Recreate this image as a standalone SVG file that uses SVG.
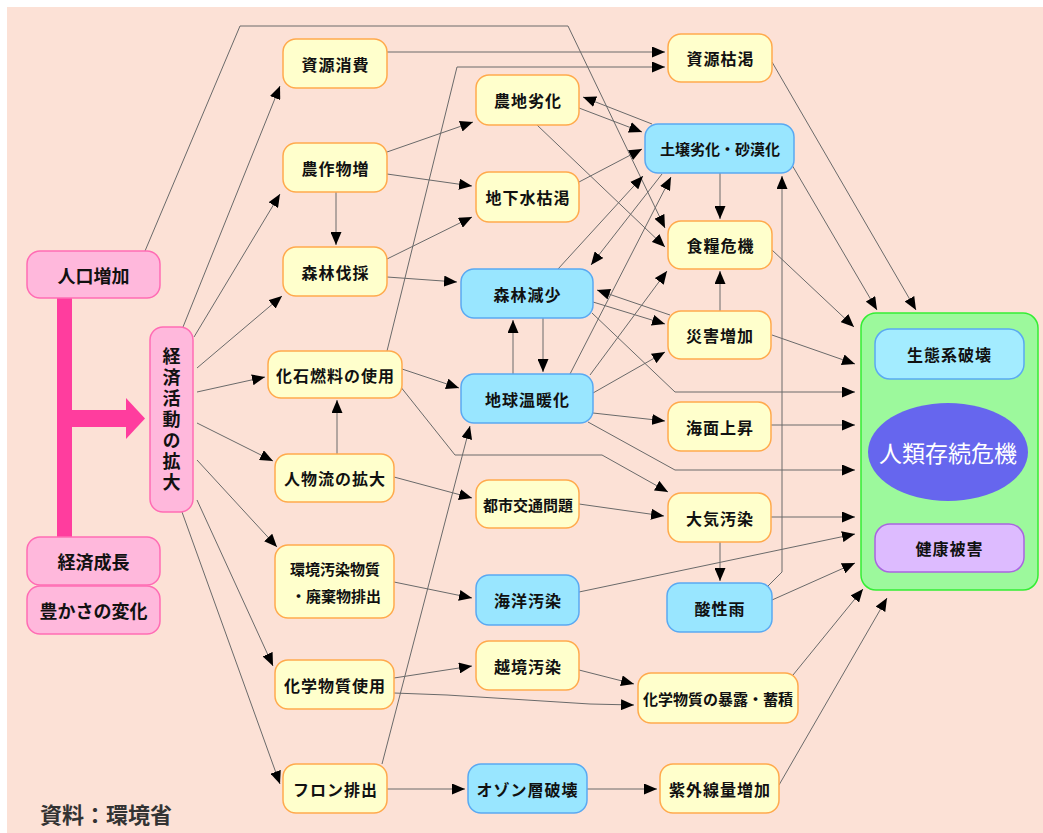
<svg xmlns="http://www.w3.org/2000/svg" width="1043" height="833" viewBox="0 0 1043 833">
<defs>
<marker id="ah" markerUnits="userSpaceOnUse" markerWidth="13" markerHeight="11" refX="13" refY="5.5" orient="auto">
<path d="M0,0 L13,5.5 L0,11 z" fill="#000"/>
</marker>
<style>
.c{fill:none;stroke:#6a6a6a;stroke-width:1;marker-end:url(#ah)}
.y{fill:#ffffcc;stroke:#ffaa4d;stroke-width:1.5}
.b{fill:#99e6ff;stroke:#5aa9f2;stroke-width:1.5}
.p{fill:#ffb8dc;stroke:#ff6cb4;stroke-width:1.5}
text{font-family:"Noto Sans CJK JP","Noto Sans CJK SC",sans-serif;font-weight:bold;fill:#111;text-anchor:middle;dominant-baseline:central}
.t{font-size:16px;letter-spacing:1px}
.s{font-size:15px}
.l{font-size:18px}
.v{font-size:18px;writing-mode:vertical-rl;letter-spacing:3px}
</style>
</defs>
<rect x="0" y="0" width="1043" height="833" fill="#ffffff"/>
<rect x="7" y="7" width="1036" height="826" fill="#fce1d6"/>

<g id="bigarrow" fill="#ff3d9e">
<rect x="57" y="298" width="15" height="239"/>
<rect x="72" y="410" width="55" height="17"/>
<polygon points="126,398 145,418.5 126,439"/>
</g>

<g id="connectors">
<path class="c" d="M145,251 L240,26 L568,26 L665,228"/>
<path class="c" d="M183,327 L280,86"/>
<path class="c" d="M194,337 L280,194"/>
<path class="c" d="M197,368 L282,296"/>
<path class="c" d="M197,392 L265,377"/>
<path class="c" d="M197,423 L273,461"/>
<path class="c" d="M197,460 L277,547"/>
<path class="c" d="M197,500 L273,666"/>
<path class="c" d="M182,512 L280,784"/>
<path class="c" d="M387,52 L665,52"/>
<path class="c" d="M387,351 L457,67 L665,67"/>
<path class="c" d="M336,192 L336,245"/>
<path class="c" d="M387,152 L473,122"/>
<path class="c" d="M387,174 L472,186"/>
<path class="c" d="M387,259 L472,217"/>
<path class="c" d="M387,277 L457,282"/>
<path class="c" d="M579,108 L642,132"/>
<path class="c" d="M579,182 L642,149"/>
<path class="c" d="M652,124 L583,97"/>
<path class="c" d="M537,125 L665,247"/>
<path class="c" d="M558,269 L643,176"/>
<path class="c" d="M570,374 L671,177"/>
<path class="c" d="M590,375 L667,271"/>
<path class="c" d="M662,174 L591,265"/>
<path class="c" d="M720,173 L720,219"/>
<path class="c" d="M720,311 L720,271"/>
<path class="c" d="M670,315 L597,290"/>
<path class="c" d="M593,302 L665,324"/>
<path class="c" d="M513,374 L513,320"/>
<path class="c" d="M543,318 L543,372"/>
<path class="c" d="M593,393 L665,352"/>
<path class="c" d="M593,413 L665,421"/>
<path class="c" d="M592,313 L675,392 L855,392"/>
<path class="c" d="M588,422 L675,470 L855,470"/>
<path class="c" d="M402,369 L459,388"/>
<path class="c" d="M400,386 L455,455 L602,455 L668,492"/>
<path class="c" d="M337,454 L337,400"/>
<path class="c" d="M394,477 L472,498"/>
<path class="c" d="M579,504 L664,516"/>
<path class="c" d="M394,582 L472,598"/>
<path class="c" d="M579,592 L855,534"/>
<path class="c" d="M394,678 L472,666"/>
<path class="c" d="M394,693 L447,695 L590,704 L634,705"/>
<path class="c" d="M579,670 L634,684"/>
<path class="c" d="M387,789 L465,789"/>
<path class="c" d="M587,789 L657,789"/>
<path class="c" d="M382,764 L470,426"/>
<path class="c" d="M720,542 L720,581"/>
<path class="c" d="M768,586 L782,572 L782,176"/>
<path class="c" d="M772,62 L916,310"/>
<path class="c" d="M792,165 L877,310"/>
<path class="c" d="M772,250 L854,327"/>
<path class="c" d="M772,335 L855,364"/>
<path class="c" d="M771,425 L855,425"/>
<path class="c" d="M771,517 L855,517"/>
<path class="c" d="M772,600 L855,563"/>
<path class="c" d="M793,675 L863,589"/>
<path class="c" d="M779,785 L887,598"/>
</g>

<g id="n-jinko"><rect class="p" x="27" y="251" width="133" height="47" rx="13"/><text class="l" x="93.5" y="274.5">人口増加</text></g>
<g id="n-keizaiseicho"><rect class="p" x="27" y="537" width="133" height="48" rx="13"/><text class="l" x="93.5" y="561">経済成長</text></g>
<g id="n-yutakasa"><rect class="p" x="27" y="586" width="133" height="48" rx="13"/><text class="l" x="93.5" y="610">豊かさの変化</text></g>
<g id="n-kakudai"><rect class="p" x="150" y="327" width="43" height="185" rx="13"/>
<text class="v" x="171.5" y="421">経済活動の拡大</text></g>

<g id="n-shigenshohi"><rect class="y" x="283" y="39" width="104" height="49" rx="13"/><text class="t" x="335.5" y="63.5">資源消費</text></g>
<g id="n-nosakumotsu"><rect class="y" x="283" y="143" width="104" height="49" rx="13"/><text class="t" x="335.5" y="167.5">農作物増</text></g>
<g id="n-shinrinbassai"><rect class="y" x="283" y="247" width="104" height="49" rx="13"/><text class="t" x="335.5" y="271.5">森林伐採</text></g>
<g id="n-kaseki"><rect class="y" x="268" y="351" width="134" height="47" rx="13"/><text class="t" x="335.5" y="374.5">化石燃料の使用</text></g>
<g id="n-jinbutsuryu"><rect class="y" x="275" y="454" width="119" height="48" rx="13"/><text class="t" x="335" y="478">人物流の拡大</text></g>
<g id="n-kankyo"><rect class="y" x="275" y="545" width="119" height="73" rx="13"/><text class="s" x="335" y="568">環境汚染物質</text><text class="s" x="336" y="595">・廃棄物排出</text></g>
<g id="n-kagakushiyo"><rect class="y" x="275" y="660" width="119" height="49" rx="13"/><text class="t" x="335" y="684.5">化学物質使用</text></g>
<g id="n-freon"><rect class="y" x="283" y="764" width="104" height="49" rx="13"/><text class="t" x="335.5" y="788.5">フロン排出</text></g>

<g id="n-nochi"><rect class="y" x="476" y="75" width="103" height="50" rx="13"/><text class="t" x="528" y="100">農地劣化</text></g>
<g id="n-chikasui"><rect class="y" x="476" y="172" width="103" height="50" rx="13"/><text class="t" x="528" y="197">地下水枯渇</text></g>
<g id="n-shinringensho"><rect class="b" x="461" y="269" width="132" height="49" rx="13"/><text class="t" x="527.5" y="293.5">森林減少</text></g>
<g id="n-ondanka"><rect class="b" x="461" y="374" width="132" height="49" rx="13"/><text class="t" x="527.5" y="398.5">地球温暖化</text></g>
<g id="n-toshikotsu"><rect class="y" x="476" y="480" width="103" height="48" rx="13"/><text class="s" x="528" y="504">都市交通問題</text></g>
<g id="n-kaiyo"><rect class="b" x="476" y="575" width="103" height="50" rx="13"/><text class="t" x="528" y="600">海洋汚染</text></g>
<g id="n-ekkyo"><rect class="y" x="476" y="641" width="103" height="49" rx="13"/><text class="t" x="528" y="665.5">越境汚染</text></g>
<g id="n-ozone"><rect class="b" x="468" y="764" width="119" height="49" rx="13"/><text class="t" x="527.5" y="788.5">オゾン層破壊</text></g>

<g id="n-shigenkokatsu"><rect class="y" x="668" y="34" width="104" height="48" rx="13"/><text class="t" x="720.5" y="58">資源枯渇</text></g>
<g id="n-dojo"><rect class="b" x="645" y="124" width="149" height="49" rx="13"/><text class="s" x="720" y="148.5">土壌劣化・砂漠化</text></g>
<g id="n-shokuryo"><rect class="y" x="668" y="221" width="104" height="48" rx="13"/><text class="t" x="720.5" y="245">食糧危機</text></g>
<g id="n-saigai"><rect class="y" x="668" y="311" width="103" height="48" rx="13"/><text class="t" x="720" y="335">災害増加</text></g>
<g id="n-kaimen"><rect class="y" x="668" y="402" width="103" height="49" rx="13"/><text class="t" x="720" y="426.5">海面上昇</text></g>
<g id="n-taiki"><rect class="y" x="668" y="493" width="103" height="49" rx="13"/><text class="t" x="720" y="517.5">大気汚染</text></g>
<g id="n-sanseiu"><rect class="b" x="667" y="583" width="105" height="49" rx="13"/><text class="t" x="720" y="607.5">酸性雨</text></g>
<g id="n-bakuro"><rect class="y" x="638" y="673" width="160" height="50" rx="13"/><text class="s" x="718" y="698">化学物質の暴露・蓄積</text></g>
<g id="n-shigaisen"><rect class="y" x="660" y="764" width="119" height="49" rx="13"/><text class="t" x="720" y="788.5">紫外線量増加</text></g>

<g id="n-kiki">
<rect x="861" y="313" width="177" height="277" rx="15" fill="#9cf99c" stroke="#33ee33" stroke-width="1.5"/>
<g id="n-seitaikei"><rect x="875" y="329" width="149" height="50" rx="15" fill="#a3ecff" stroke="#5aa9f2" stroke-width="1.5"/><text class="t" x="949.5" y="354">生態系破壊</text></g>
<g id="n-jinrui"><ellipse cx="948" cy="452" rx="80" ry="49" fill="#6666ee"/><text x="948" y="452" style="font-size:23px;font-weight:normal;fill:#ffffff">人類存続危機</text></g>
<g id="n-kenko"><rect x="875" y="524" width="149" height="48" rx="15" fill="#ddbbff" stroke="#a966e0" stroke-width="1.5"/><text class="t" x="949.5" y="548">健康被害</text></g>
</g>

<text x="106" y="813" style="font-size:22px;fill:#333">資料：環境省</text>
</svg>
